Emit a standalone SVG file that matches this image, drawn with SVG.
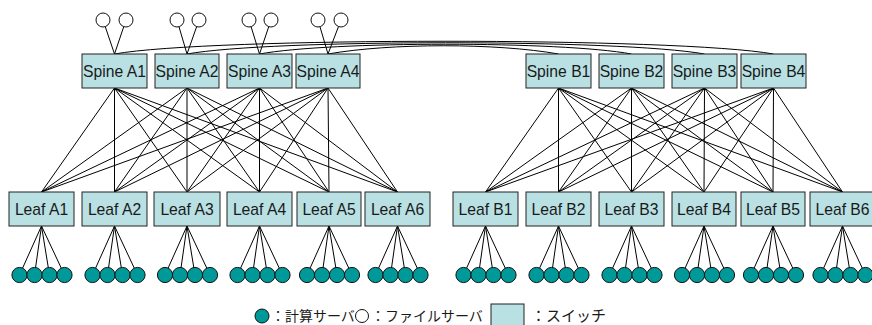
<svg xmlns="http://www.w3.org/2000/svg" width="872" height="325" viewBox="0 0 872 325">
<style>
.sw{fill:#b9e0e3;stroke:#222;stroke-width:1}
.lb{font-family:"Liberation Sans",Arial,sans-serif;font-size:15.7px;fill:#1a1a1a;text-anchor:middle}
.cs{fill:#009999;stroke:#111;stroke-width:1}
.fs{fill:#fff;stroke:#111;stroke-width:1}
.ln{stroke:#000;stroke-width:1;fill:none}
.lg{font-family:"Noto Sans CJK JP","Noto Sans",sans-serif;font-size:14px;fill:#1a1a1a}
</style>
<rect width="872" height="325" fill="#fff"/>
<g id="connectors" class="ln">
<path d="M114.5,88L41.5,192M114.5,88L114.5,192M114.5,88L187,192M114.5,88L259.5,192M114.5,88L329,192M114.5,88L397.5,192"/>
<path d="M187,88L41.5,192M187,88L114.5,192M187,88L187,192M187,88L259.5,192M187,88L329,192M187,88L397.5,192"/>
<path d="M259.5,88L41.5,192M259.5,88L114.5,192M259.5,88L187,192M259.5,88L259.5,192M259.5,88L329,192M259.5,88L397.5,192"/>
<path d="M328,88L41.5,192M328,88L114.5,192M328,88L187,192M328,88L259.5,192M328,88L329,192M328,88L397.5,192"/>
<path d="M558.5,88L485.5,192M558.5,88L558.5,192M558.5,88L631.5,192M558.5,88L704,192M558.5,88L773,192M558.5,88L842.5,192"/>
<path d="M631.5,88L485.5,192M631.5,88L558.5,192M631.5,88L631.5,192M631.5,88L704,192M631.5,88L773,192M631.5,88L842.5,192"/>
<path d="M704.5,88L485.5,192M704.5,88L558.5,192M704.5,88L631.5,192M704.5,88L704,192M704.5,88L773,192M704.5,88L842.5,192"/>
<path d="M773.5,88L485.5,192M773.5,88L558.5,192M773.5,88L631.5,192M773.5,88L704,192M773.5,88L773,192M773.5,88L842.5,192"/>
<path d="M114.5,54C210,37 678,37 773.5,54"/>
<path d="M187,54C270,39 621,39 704.5,54"/>
<path d="M259.5,54C330,41 561,41 631.5,54"/>
<path d="M328,54C390,43 497,43 558.5,54"/>
<path d="M114.5,54L103,20M114.5,54L126,20M187,54L177,20M187,54L199,20M259.5,54L249,20M259.5,54L271,20M328,54L318,20M328,54L341,20"/>
<path d="M41.5,226L19.5,275M41.5,226L34.5,275M41.5,226L49.5,275M41.5,226L64.5,275"/>
<path d="M114.5,226L92.5,275M114.5,226L107.5,275M114.5,226L122.5,275M114.5,226L137.5,275"/>
<path d="M187,226L165,275M187,226L180,275M187,226L195,275M187,226L210,275"/>
<path d="M259.5,226L237.5,275M259.5,226L252.5,275M259.5,226L267.5,275M259.5,226L282.5,275"/>
<path d="M329,226L307,275M329,226L322,275M329,226L337,275M329,226L352,275"/>
<path d="M397.5,226L375.5,275M397.5,226L390.5,275M397.5,226L405.5,275M397.5,226L420.5,275"/>
<path d="M485.5,226L463.5,275M485.5,226L478.5,275M485.5,226L493.5,275M485.5,226L508.5,275"/>
<path d="M558.5,226L536.5,275M558.5,226L551.5,275M558.5,226L566.5,275M558.5,226L581.5,275"/>
<path d="M631.5,226L609.5,275M631.5,226L624.5,275M631.5,226L639.5,275M631.5,226L654.5,275"/>
<path d="M704,226L682,275M704,226L697,275M704,226L712,275M704,226L727,275"/>
<path d="M773,226L751,275M773,226L766,275M773,226L781,275M773,226L796,275"/>
<path d="M842.5,226L820.5,275M842.5,226L835.5,275M842.5,226L850.5,275M842.5,226L865.5,275"/>
</g>
<g id="fileservers">
<circle class="fs" cx="103" cy="20" r="7"/><circle class="fs" cx="126" cy="20" r="7"/>
<circle class="fs" cx="177" cy="20" r="7"/><circle class="fs" cx="199" cy="20" r="7"/>
<circle class="fs" cx="249" cy="20" r="7"/><circle class="fs" cx="271" cy="20" r="7"/>
<circle class="fs" cx="318" cy="20" r="7"/><circle class="fs" cx="341" cy="20" r="7"/>
</g>
<g id="spineA1"><rect class="sw" x="82" y="54" width="65" height="34"/><text class="lb" x="114.5" y="77">Spine A1</text></g>
<g id="spineA2"><rect class="sw" x="155" y="54" width="64" height="34"/><text class="lb" x="187" y="77">Spine A2</text></g>
<g id="spineA3"><rect class="sw" x="227" y="54" width="65" height="34"/><text class="lb" x="259.5" y="77">Spine A3</text></g>
<g id="spineA4"><rect class="sw" x="296" y="54" width="64" height="34"/><text class="lb" x="328" y="77">Spine A4</text></g>
<g id="spineB1"><rect class="sw" x="526" y="54" width="65" height="34"/><text class="lb" x="558.5" y="77">Spine B1</text></g>
<g id="spineB2"><rect class="sw" x="599" y="54" width="65" height="34"/><text class="lb" x="631.5" y="77">Spine B2</text></g>
<g id="spineB3"><rect class="sw" x="672" y="54" width="65" height="34"/><text class="lb" x="704.5" y="77">Spine B3</text></g>
<g id="spineB4"><rect class="sw" x="741" y="54" width="65" height="34"/><text class="lb" x="773.5" y="77">Spine B4</text></g>
<g id="leafA1"><rect class="sw" x="9" y="192" width="65" height="34"/><text class="lb" x="41.5" y="215">Leaf A1</text></g>
<g id="leafA2"><rect class="sw" x="82" y="192" width="65" height="34"/><text class="lb" x="114.5" y="215">Leaf A2</text></g>
<g id="leafA3"><rect class="sw" x="154" y="192" width="66" height="34"/><text class="lb" x="187" y="215">Leaf A3</text></g>
<g id="leafA4"><rect class="sw" x="227" y="192" width="65" height="34"/><text class="lb" x="259.5" y="215">Leaf A4</text></g>
<g id="leafA5"><rect class="sw" x="297" y="192" width="64" height="34"/><text class="lb" x="329" y="215">Leaf A5</text></g>
<g id="leafA6"><rect class="sw" x="365" y="192" width="65" height="34"/><text class="lb" x="397.5" y="215">Leaf A6</text></g>
<g id="leafB1"><rect class="sw" x="453" y="192" width="65" height="34"/><text class="lb" x="485.5" y="215">Leaf B1</text></g>
<g id="leafB2"><rect class="sw" x="526" y="192" width="65" height="34"/><text class="lb" x="558.5" y="215">Leaf B2</text></g>
<g id="leafB3"><rect class="sw" x="599" y="192" width="65" height="34"/><text class="lb" x="631.5" y="215">Leaf B3</text></g>
<g id="leafB4"><rect class="sw" x="672" y="192" width="64" height="34"/><text class="lb" x="704" y="215">Leaf B4</text></g>
<g id="leafB5"><rect class="sw" x="741" y="192" width="64" height="34"/><text class="lb" x="773" y="215">Leaf B5</text></g>
<g id="leafB6"><rect class="sw" x="810" y="192" width="65" height="34"/><text class="lb" x="842.5" y="215">Leaf B6</text></g>
<g id="computeservers">
<circle class="cs" cx="19.5" cy="275" r="7.6"/><circle class="cs" cx="34.5" cy="275" r="7.6"/><circle class="cs" cx="49.5" cy="275" r="7.6"/><circle class="cs" cx="64.5" cy="275" r="7.6"/>
<circle class="cs" cx="92.5" cy="275" r="7.6"/><circle class="cs" cx="107.5" cy="275" r="7.6"/><circle class="cs" cx="122.5" cy="275" r="7.6"/><circle class="cs" cx="137.5" cy="275" r="7.6"/>
<circle class="cs" cx="165" cy="275" r="7.6"/><circle class="cs" cx="180" cy="275" r="7.6"/><circle class="cs" cx="195" cy="275" r="7.6"/><circle class="cs" cx="210" cy="275" r="7.6"/>
<circle class="cs" cx="237.5" cy="275" r="7.6"/><circle class="cs" cx="252.5" cy="275" r="7.6"/><circle class="cs" cx="267.5" cy="275" r="7.6"/><circle class="cs" cx="282.5" cy="275" r="7.6"/>
<circle class="cs" cx="307" cy="275" r="7.6"/><circle class="cs" cx="322" cy="275" r="7.6"/><circle class="cs" cx="337" cy="275" r="7.6"/><circle class="cs" cx="352" cy="275" r="7.6"/>
<circle class="cs" cx="375.5" cy="275" r="7.6"/><circle class="cs" cx="390.5" cy="275" r="7.6"/><circle class="cs" cx="405.5" cy="275" r="7.6"/><circle class="cs" cx="420.5" cy="275" r="7.6"/>
<circle class="cs" cx="463.5" cy="275" r="7.6"/><circle class="cs" cx="478.5" cy="275" r="7.6"/><circle class="cs" cx="493.5" cy="275" r="7.6"/><circle class="cs" cx="508.5" cy="275" r="7.6"/>
<circle class="cs" cx="536.5" cy="275" r="7.6"/><circle class="cs" cx="551.5" cy="275" r="7.6"/><circle class="cs" cx="566.5" cy="275" r="7.6"/><circle class="cs" cx="581.5" cy="275" r="7.6"/>
<circle class="cs" cx="609.5" cy="275" r="7.6"/><circle class="cs" cx="624.5" cy="275" r="7.6"/><circle class="cs" cx="639.5" cy="275" r="7.6"/><circle class="cs" cx="654.5" cy="275" r="7.6"/>
<circle class="cs" cx="682" cy="275" r="7.6"/><circle class="cs" cx="697" cy="275" r="7.6"/><circle class="cs" cx="712" cy="275" r="7.6"/><circle class="cs" cx="727" cy="275" r="7.6"/>
<circle class="cs" cx="751" cy="275" r="7.6"/><circle class="cs" cx="766" cy="275" r="7.6"/><circle class="cs" cx="781" cy="275" r="7.6"/><circle class="cs" cx="796" cy="275" r="7.6"/>
<circle class="cs" cx="820.5" cy="275" r="7.6"/><circle class="cs" cx="835.5" cy="275" r="7.6"/><circle class="cs" cx="850.5" cy="275" r="7.6"/><circle class="cs" cx="865.5" cy="275" r="7.6"/>
</g>
<g id="legend">
<circle class="cs" cx="262" cy="316" r="7"/>
<text class="lg" x="271" y="321">：計算サーバ</text>
<circle class="fs" cx="362" cy="316" r="6.5"/>
<text class="lg" x="371" y="321">：ファイルサーバ</text>
<rect class="sw" x="491" y="304" width="33" height="23"/>
<text class="lg" x="531" y="321" style="font-size:15px">：スイッチ</text>
</g>
</svg>
